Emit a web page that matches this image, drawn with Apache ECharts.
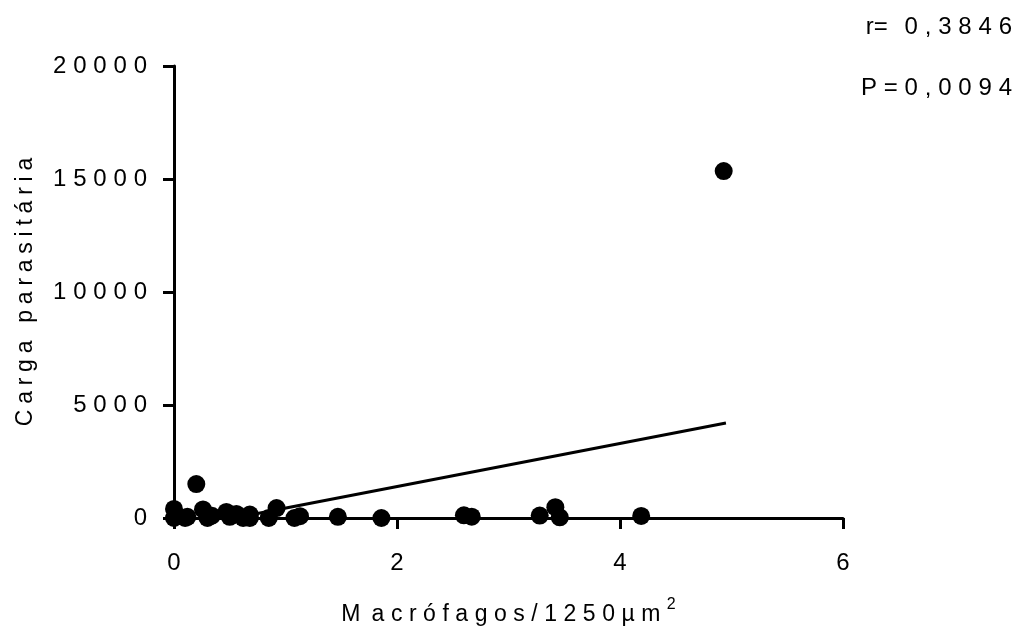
<!DOCTYPE html>
<html>
<head>
<meta charset="utf-8">
<script src="https://cdn.jsdelivr.net/npm/echarts@6/dist/echarts.min.js"></script>
<style>
    html, body { margin: 0; padding: 0; background: #fff; }
    #chart { width: 1019px; height: 642px; }
</style>
</head>
<body>
<div id="chart"></div>
<script>
"use strict";

// macrofagos por 1250 um2 (x) e carga parasitaria (y)
var macrofagos = [0, 0, 0.02, 0.1, 0.12, 0.2, 0.26, 0.3, 0.34, 0.47, 0.5, 0.56, 0.62, 0.68, 0.68, 0.85, 0.92, 1.08, 1.13, 1.47, 1.86, 2.6, 2.67, 3.28, 3.42, 3.46, 4.19, 4.93];
var carga = [0, 400, 100, 0, 50, 1500, 380, 0, 100, 270, 50, 180, 0, 0, 150, 0, 440, 0, 80, 50, 0, 120, 60, 110, 480, 30, 90, 15350];

// reta de regressao (extremos)
var regX = [0.54, 4.95];
var regY = [0, 4200];

var xTicks = [0, 2, 4, 6];
var yTicks = [0, 5000, 10000, 15000, 20000];

var SP = "\u2009\u200A";
function spaced(s, sep) {
    return String(s).split("").join(sep || SP);
}

var statR = "r=\u2002\u2009" + spaced("0,3846");
var statP = spaced("P=0,0094");

var font = "'Liberation Sans', Arial, sans-serif";
var fs = 24;

var chart = echarts.init(document.getElementById("chart"), null, { renderer: "canvas" });

var points = macrofagos.map(function (x, i) { return [x, carga[i]]; });
var line = regX.map(function (x, i) { return [x, regY[i]]; });

chart.setOption({
    backgroundColor: "#fff",
    animation: false,
    grid: { left: 174, right: 176, top: 66, bottom: 124 },
    textStyle: { fontFamily: font, color: "#000" },
    xAxis: {
        type: "value",
        min: xTicks[0],
        max: xTicks[xTicks.length - 1],
        interval: 2,
        splitLine: { show: false },
        axisLine: { lineStyle: { color: "#000", width: 3 } },
        axisTick: { length: 11, lineStyle: { color: "#000", width: 3 } },
        axisLabel: { margin: 33, fontSize: fs, color: "#000", fontFamily: font },
        name: "{a|M\u2009" + SP + spaced("acrófagos/1250µm") + "}{s|\u2009\u20092}",
        nameLocation: "middle",
        nameGap: 79,
        nameTextStyle: {
            rich: {
                a: { fontSize: 23, color: "#000", fontFamily: font },
                s: { fontSize: 16, color: "#000", fontFamily: font, verticalAlign: "top", padding: [0, 0, 20, 0] }
            }
        }
    },
    yAxis: {
        type: "value",
        min: yTicks[0],
        max: yTicks[yTicks.length - 1],
        interval: 5000,
        splitLine: { show: false },
        axisLine: { lineStyle: { color: "#000", width: 3 } },
        axisTick: { length: 11, lineStyle: { color: "#000", width: 3 } },
        axisLabel: {
            margin: 27, fontSize: fs, color: "#000", fontFamily: font,
            formatter: function (v) { return spaced(v); }
        },
        name: spaced("Carga parasitária", "\u2005"),
        nameLocation: "middle",
        nameGap: 137,
        nameTextStyle: { fontSize: 23, color: "#000", fontFamily: font }
    },
    graphic: [
        {
            type: "text", right: 7, top: 15,
            style: { text: statR, font: fs + "px " + font, fill: "#000" }
        },
        {
            type: "text", right: 7, top: 76,
            style: { text: statP, font: fs + "px " + font, fill: "#000" }
        }
    ],
    series: [
        {
            type: "line",
            data: line,
            symbol: "none",
            lineStyle: { color: "#000", width: 3 },
            z: 3
        },
        {
            type: "scatter",
            data: points,
            symbol: "circle",
            symbolSize: 18,
            clip: false,
            itemStyle: { color: "#000", opacity: 1 },
            z: 4
        }
    ]
});
</script>
</body>
</html>
